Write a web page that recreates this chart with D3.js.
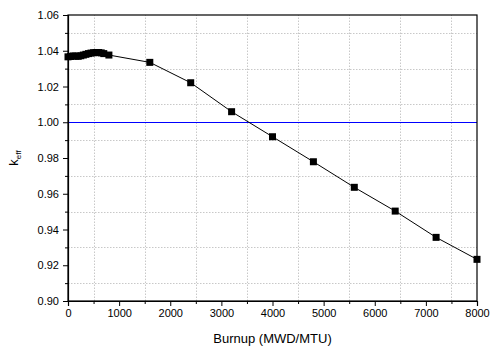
<!DOCTYPE html>
<html>
<head>
<meta charset="utf-8">
<script src="https://cdn.jsdelivr.net/npm/d3@7"></script>
<style>
	body { margin: 0; background: #fff; }
	text { font-family: "Liberation Sans", Arial, sans-serif; fill: #000; }
	.grid line { stroke: #c8c8c8; stroke-dasharray: 1.5 1.5; }
</style>
</head>
<body>
<script>

//Burnup steps (MWD/MTU) and k-eff values
let burnup = [0, 50, 100, 150, 200, 250, 300, 350, 400, 450, 500, 550, 600, 650, 700, 800,
	1600, 2400, 3200, 4000, 4800, 5600, 6400, 7200, 8000];
let keff = [1.0366, 1.0368, 1.0371, 1.0370, 1.0369, 1.0372, 1.0376, 1.0380, 1.0384, 1.0387, 1.0389, 1.0390, 1.0390, 1.0388, 1.0384, 1.0376,
	1.0335, 1.0221, 1.0059, 0.9919, 0.9779, 0.9636, 0.9503, 0.9356, 0.9233];

//Tick values and the critical line
let xTicks = [0, 1000, 2000, 3000, 4000, 5000, 6000, 7000, 8000];
let yTicks = [0.90, 0.92, 0.94, 0.96, 0.98, 1.00, 1.02, 1.04, 1.06];
let critical = 1.00;

window.onload = drawChart();

function drawChart(){

	let width = 492;
	let height = 351;
	let margin = {top: 15, right: 15, bottom: 50, left: 68};

	let svg = d3.select("body")
		.append("svg")
		.attr("width", width)
		.attr("height", height);

	let x = d3.scaleLinear()
		.domain([0, 8000])
		.range([margin.left, width - margin.right]);

	let y = d3.scaleLinear()
		.domain([0.90, 1.06])
		.range([height - margin.bottom, margin.top]);

	//Dotted grid on the minor ticks
	let xMinor = d3.range(500, 8000, 1000);
	let yMinor = d3.range(0.91, 1.06, 0.02);

	let grid = svg.append("g").attr("class", "grid");
	grid.selectAll(".gx")
		.data(xMinor)
		.enter()
		.append("line")
		.attr("x1", d => Math.round(x(d)) + 0.5)
		.attr("x2", d => Math.round(x(d)) + 0.5)
		.attr("y1", y.range()[0])
		.attr("y2", y.range()[1]);
	grid.selectAll(".gy")
		.data(yMinor)
		.enter()
		.append("line")
		.attr("y1", d => Math.round(y(d)) + 0.5)
		.attr("y2", d => Math.round(y(d)) + 0.5)
		.attr("x1", x.range()[0])
		.attr("x2", x.range()[1]);

	//Critical line
	svg.append("line")
		.attr("x1", x.range()[0])
		.attr("x2", x.range()[1])
		.attr("y1", Math.round(y(critical)) + 0.5)
		.attr("y2", Math.round(y(critical)) + 0.5)
		.attr("stroke", "#0000ff")
		.attr("stroke-width", 1);

	//Frame
	svg.append("rect")
		.attr("x", margin.left)
		.attr("y", margin.top)
		.attr("width", width - margin.left - margin.right)
		.attr("height", height - margin.top - margin.bottom)
		.attr("fill", "none")
		.attr("stroke", "#000")
		.attr("stroke-width", 1.2);

	//Axes with minor ticks
	let xAxisMinor = d3.axisBottom(x).tickValues(xMinor).tickSize(3).tickFormat("");
	let yAxisMinor = d3.axisLeft(y).tickValues(yMinor).tickSize(3).tickFormat("");

	svg.append("g")
		.attr("transform", "translate(0," + y.range()[0] + ")")
		.call(xAxisMinor)
		.call(g => g.select(".domain").remove());
	svg.append("g")
		.attr("transform", "translate(" + x.range()[0] + ",0)")
		.call(yAxisMinor)
		.call(g => g.select(".domain").remove());

	let xAxis = svg.append("g")
		.attr("transform", "translate(0," + y.range()[0] + ")")
		.call(d3.axisBottom(x).tickValues(xTicks).tickSize(5).tickPadding(3).tickFormat(d3.format("d")));
	xAxis.select(".domain").attr("stroke-width", 1.2);
	xAxis.selectAll("text").style("font-size", "11px");

	let yAxis = svg.append("g")
		.attr("transform", "translate(" + x.range()[0] + ",0)")
		.call(d3.axisLeft(y).tickValues(yTicks).tickSize(5).tickPadding(4).tickFormat(d3.format(".2f")));
	yAxis.select(".domain").attr("stroke-width", 1.2);
	yAxis.selectAll("text").style("font-size", "11px");

	//Data line and square markers
	let line = d3.line()
		.x((d, i) => x(burnup[i]))
		.y(d => y(d));

	svg.append("path")
		.datum(keff)
		.attr("d", line)
		.attr("fill", "none")
		.attr("stroke", "#000")
		.attr("stroke-width", 1);

	let size = 7;
	svg.selectAll(".pt")
		.data(keff)
		.enter()
		.append("rect")
		.attr("class", "pt")
		.attr("x", (d, i) => x(burnup[i]) - size / 2)
		.attr("y", d => y(d) - size / 2)
		.attr("width", size)
		.attr("height", size)
		.attr("fill", "#000");

	//Axis titles
	svg.append("text")
		.attr("x", (x.range()[0] + x.range()[1]) / 2)
		.attr("y", 343)
		.attr("text-anchor", "middle")
		.style("font-size", "13px")
		.text("Burnup (MWD/MTU)");

	let yTitle = svg.append("text")
		.attr("transform", "translate(18," + ((y.range()[0] + y.range()[1]) / 2) + ") rotate(-90)")
		.attr("text-anchor", "middle")
		.style("font-size", "13px");
	yTitle.append("tspan").text("k");
	yTitle.append("tspan")
		.attr("dy", 3)
		.style("font-size", "8px")
		.text("eff");
};
</script>
</body>
</html>
